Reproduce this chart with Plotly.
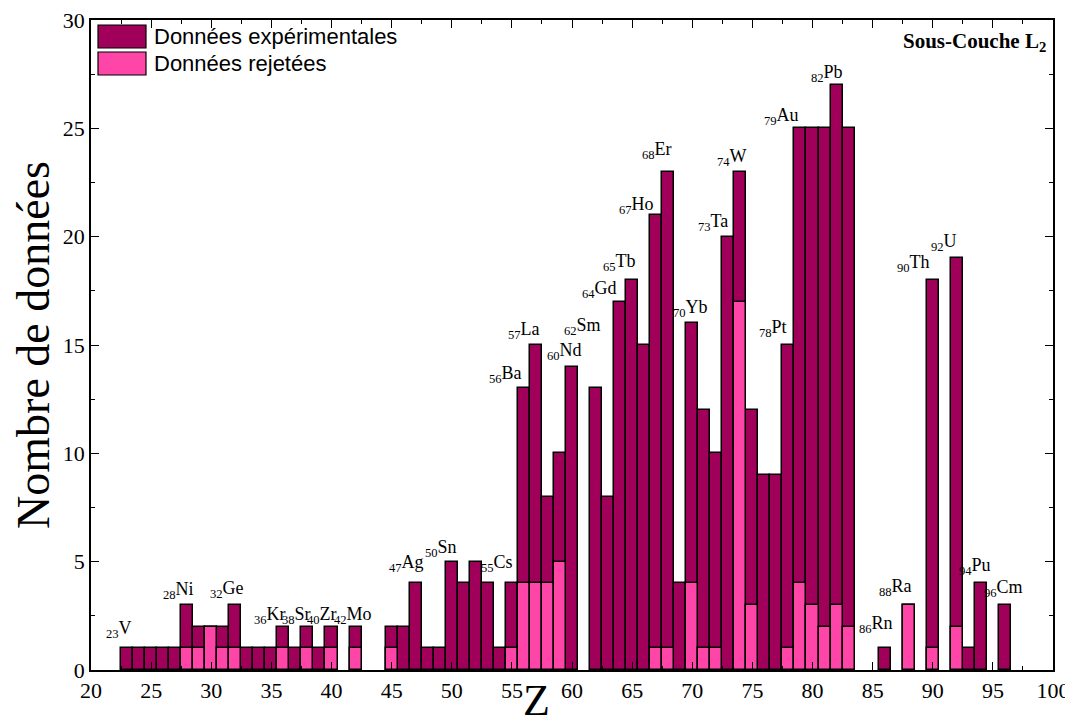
import plotly.graph_objects as go

# ---------------- data ----------------
z_numbers = [23, 24, 25, 26, 27, 28, 29, 30, 31, 32, 33, 34, 35, 36, 37, 38, 39, 40,
             42, 45, 46, 47, 48, 49, 50, 51, 52, 53, 54, 55, 56, 57, 58, 59, 60,
             62, 63, 64, 65, 66, 67, 68, 69, 70, 71, 72, 73, 74, 75, 76, 77, 78,
             79, 80, 81, 82, 83, 86, 88, 90, 92, 93, 94, 96]
experimental = [1, 1, 1, 1, 1, 3, 2, 2, 2, 3, 1, 1, 1, 2, 1, 2, 1, 2,
                2, 2, 2, 4, 1, 1, 5, 4, 5, 4, 1, 4, 13, 15, 8, 10, 14,
                13, 8, 17, 18, 15, 21, 23, 4, 16, 12, 10, 20, 23, 12, 9, 9, 15,
                25, 25, 25, 27, 25, 1, 3, 18, 19, 1, 4, 3]
rejected = [0, 0, 0, 0, 0, 1, 1, 2, 1, 1, 0, 0, 0, 1, 0, 1, 0, 1,
            1, 1, 0, 0, 0, 0, 0, 0, 0, 0, 0, 1, 4, 4, 4, 5, 0,
            0, 0, 0, 0, 0, 1, 1, 0, 4, 1, 1, 0, 17, 3, 0, 0, 1,
            4, 3, 2, 3, 2, 0, 3, 1, 2, 0, 0, 0]

label_z = [23, 28, 32, 36, 38, 40, 42, 47, 50, 55, 56, 57, 60, 62, 64, 65, 67,
           68, 70, 73, 74, 78, 79, 82, 86, 88, 90, 92, 94, 96]
label_sym = ["V", "Ni", "Ge", "Kr", "Sr", "Zr", "Mo", "Ag", "Sn", "Cs", "Ba", "La",
             "Nd", "Sm", "Gd", "Tb", "Ho", "Er", "Yb", "Ta", "W", "Pt", "Au", "Pb",
             "Rn", "Ra", "Th", "U", "Pu", "Cm"]

# label placement (style): right-edge offset in Z units, lift above bar top in px
label_dx = [0.56, 0.70, 0.92, 0.40, 0.48, 0.63, 1.53, 0.84, 0.57, 0.29, 0.04, 0.53,
            1.00, 0.58, -0.09, 0.48, -0.02, 0.47, 1.45, 0.11, 0.76, 0.08, 0.07, 0.72,
            0.86, 0.43, -0.08, 0.16, 0.98, 1.63]
label_lift = [22, 18, 19, 14, 14, 14, 14, 23, 16, 23, 17, 18, 18, 65, 15, 21, 13,
              24, 18, 17, 17, 20, 15, 15, 27, 21, 20, 19, 20, 20]

DARK = "#A0005A"
PINK = "#FF45A8"
SERIF = "Liberation Serif"
SANS = "Liberation Sans"

fig = go.Figure()

fig.add_trace(go.Bar(
    x=z_numbers, y=experimental, width=1.0,
    marker=dict(color=DARK, line=dict(color="black", width=1.5)),
    name="Données expérimentales", showlegend=False,
))
rz = [z for z, r in zip(z_numbers, rejected) if r > 0]
rv = [r for r in rejected if r > 0]
fig.add_trace(go.Bar(
    x=rz, y=rv, width=1.0,
    marker=dict(color=PINK, line=dict(color="black", width=1.5)),
    name="Données rejetées", showlegend=False,
))

height_of = dict(zip(z_numbers, experimental))
annotations = []
for z, sym, dx, lift in zip(label_z, label_sym, label_dx, label_lift):
    annotations.append(dict(
        x=z + dx, y=height_of[z], xref="x", yref="y",
        text=f"<sub>{z}</sub>{sym}", showarrow=False,
        xanchor="right", yanchor="middle", yshift=lift - 3,
        font=dict(family=SERIF, size=18, color="black"),
    ))

# custom legend
legend_items = [("Données expérimentales", DARK), ("Données rejetées", PINK)]
shapes = []
px_w, px_h = 962.0, 650.0
for i, (txt, col) in enumerate(legend_items):
    top = 5 + i * 27
    y0 = 1 - (top + 23) / px_h
    y1 = 1 - top / px_h
    shapes.append(dict(type="rect", xref="paper", yref="paper",
                       x0=7 / px_w, x1=55 / px_w, y0=y0, y1=y1,
                       fillcolor=col, line=dict(color="black", width=1.2)))
    annotations.append(dict(x=61 / px_w, y=(y0 + y1) / 2, xref="paper", yref="paper",
                            text=txt, showarrow=False, xanchor="left", yanchor="middle",
                            font=dict(family=SANS, size=22, color="black")))

annotations.append(dict(x=0.9948, y=0.966, xref="paper", yref="paper",
                        text="<b>Sous-Couche L<sub>2</sub></b>", showarrow=False,
                        xanchor="right", yanchor="middle",
                        font=dict(family=SERIF, size=21, color="black")))
annotations.append(dict(x=0.4636, y=-0.0055, xref="paper", yref="paper",
                        text="Z", showarrow=False, xanchor="center", yanchor="top",
                        font=dict(family=SERIF, size=44, color="black")))

axis_common = dict(
    showgrid=False, zeroline=False, showline=True, linecolor="black", linewidth=1.5,
    mirror="allticks", ticks="inside", ticklen=8, tickwidth=1.2, tickcolor="black",
    automargin=False, ticklabeloverflow="allow",
    tickfont=dict(family=SERIF, size=22, color="black"),
    minor=dict(ticks="inside", ticklen=4, tickwidth=1.2, tickcolor="black", dtick=2.5),
)

# page body has an 8px margin: margins compensate so the plot area lands at
# x 91..1053, y 20..670 of the window
fig.update_layout(
    template="none",
    width=1073, height=716,
    margin=dict(l=83, r=28, t=12, b=54, pad=0),
    paper_bgcolor="white", plot_bgcolor="white",
    barmode="overlay", bargap=0,
    xaxis=dict(range=[20, 100], tick0=20, dtick=5, **axis_common),
    yaxis=dict(range=[0, 30], tick0=0, dtick=5,
               title=dict(text="Nombre de données",
                          font=dict(family=SERIF, size=46, color="black"), standoff=6),
               **axis_common),
    annotations=annotations, shapes=shapes,
)

fig.write_html("out.html")
